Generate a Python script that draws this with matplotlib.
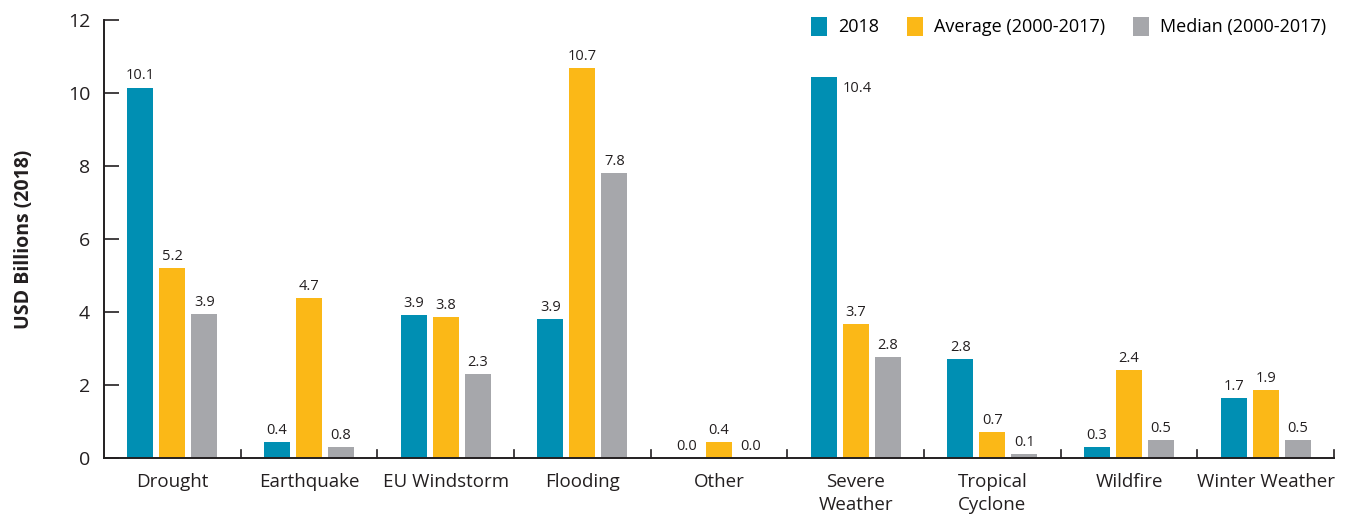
import matplotlib
matplotlib.use("Agg")
import matplotlib.pyplot as plt
import numpy as np

categories = ["Drought", "Earthquake", "EU Windstorm", "Flooding", "Other",
              "Severe\nWeather", "Tropical\nCyclone", "Wildfire", "Winter Weather"]
series_names = ["2018", "Average (2000-2017)", "Median (2000-2017)"]
values_2018 = [10.15, 0.44, 3.92, 3.8, 0.0, 10.44, 2.71, 0.3, 1.64]
values_avg = [5.2, 4.37, 3.86, 10.68, 0.44, 3.67, 0.71, 2.42, 1.86]
values_med = [3.95, 0.3, 2.3, 7.8, 0.0, 2.77, 0.11, 0.49, 0.49]
labels_2018 = ["10.1", "0.4", "3.9", "3.9", "0.0", "10.4", "2.8", "0.3", "1.7"]
labels_avg = ["5.2", "4.7", "3.8", "10.7", "0.4", "3.7", "0.7", "2.4", "1.9"]
labels_med = ["3.9", "0.8", "2.3", "7.8", "0.0", "2.8", "0.1", "0.5", "0.5"]
colors = ["#008fb3", "#fbb817", "#a6a7ab"]

plt.rcParams['font.family'] = ['Open Sans', 'DejaVu Sans']

W, H = 1347, 518
fig = plt.figure(figsize=(W / 100, H / 100), dpi=100)
ax = fig.add_axes([104 / W, (H - 458) / H, (1334 - 104) / W, (458 - 20) / H])

n = len(categories)
x = np.arange(n)
offset = 0.234
width = 0.19
all_vals = [values_2018, values_avg, values_med]
all_labels = [labels_2018, labels_avg, labels_med]
for i, (vals, labs, c, name) in enumerate(zip(all_vals, all_labels, colors, series_names)):
    pos = x + (i - 1) * offset
    ax.bar(pos, vals, width=width, color=c, label=name, zorder=2)
    for j, (p, v, t) in enumerate(zip(pos, vals, labs)):
        if i == 0 and categories[j].startswith("Severe"):
            ax.annotate(t, (p + width / 2, v), xytext=(4, -3), textcoords="offset points",
                        ha="left", va="top", fontsize=10.5, color="#231f20")
        else:
            ax.annotate(t, (p, v), xytext=(0, 3), textcoords="offset points",
                        ha="center", va="bottom", fontsize=10.5, color="#231f20")

ax.set_xlim(-0.5, n - 0.5)
ax.set_ylim(0, 12)
ax.set_yticks([0, 2, 4, 6, 8, 10, 12])
ax.tick_params(axis="y", direction="in", length=11, width=1.2, labelsize=14,
               pad=10, colors="#231f20")
ax.set_xticks(x)
ax.set_xticklabels(categories, fontsize=13.5, color="#231f20", linespacing=1.35)
ax.tick_params(axis="x", length=0, pad=11)
for b in np.arange(n + 1) - 0.5:
    if b > -0.5:
        ax.plot([b, b], [0, 0.22], color="#231f20", lw=1.2, clip_on=False, zorder=3)

for s in ["top", "right"]:
    ax.spines[s].set_visible(False)
for s in ["left", "bottom"]:
    ax.spines[s].set_linewidth(1.4)
    ax.spines[s].set_color("#231f20")

ax.set_ylabel("USD Billions (2018)", fontsize=14, fontweight="bold", labelpad=24,
              color="#231f20")

ax.legend(loc="upper right", bbox_to_anchor=(1.007, 1.045), ncol=3, frameon=False,
          fontsize=13, handlelength=0.9, handleheight=1.3, handletextpad=0.6,
          columnspacing=1.55)

fig.savefig("out.png", dpi=100)
